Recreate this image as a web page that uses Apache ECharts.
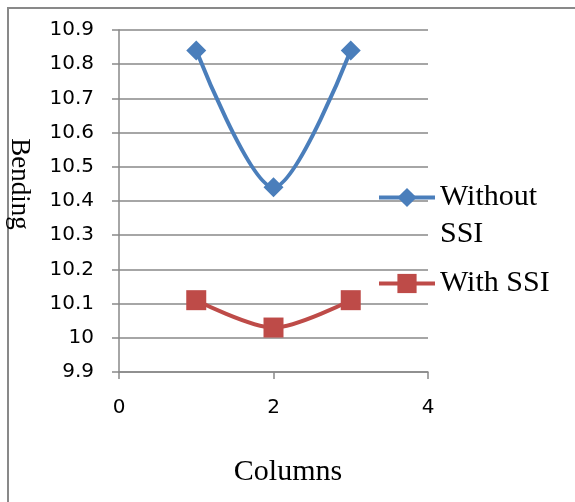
<!DOCTYPE html>
<html>
<head>
<meta charset="utf-8">
<script src="https://cdn.jsdelivr.net/npm/echarts@6/dist/echarts.min.js"></script>
<style>
  html, body { margin: 0; padding: 0; background: #fff; }
  #chart { width: 575px; height: 502px; }
</style>
</head>
<body>
<div id="chart"></div>
<script>
// Column positions and bending values for each case
const columns = [1, 2, 3];
const withoutSSI = [10.84, 10.44, 10.84];
const withSSI = [10.11, 10.03, 10.11];
const seriesNames = ['Without SSI', 'With SSI'];

const axisGray = '#898989';
const blue = '#4A7EBB';
const red = '#BE4B48';
const labelFont = 'DejaVu Sans';
const titleFont = 'Liberation Serif';

function pairs(xs, ys) {
  return xs.map((x, i) => [x, ys[i]]);
}

const chart = echarts.init(document.getElementById('chart'), null, { renderer: 'canvas' });

const legendCommon = {
  orient: 'vertical',
  left: 377,
  padding: 0,
  itemWidth: 56,
  itemHeight: 24,
  itemGap: 0,
  lineStyle: { width: 4 },
  textStyle: { fontFamily: titleFont, fontSize: 30, color: '#000', lineHeight: 37 }
};

chart.setOption({
  animation: false,
  backgroundColor: '#fff',
  grid: { left: 119, right: 147, top: 30, bottom: 130, containLabel: false },
  xAxis: {
    type: 'value',
    min: 0,
    max: 4,
    interval: 2,
    axisLine: { show: true, lineStyle: { color: axisGray, width: 1.5 } },
    axisTick: { show: true, length: 7, lineStyle: { color: axisGray, width: 1.5 } },
    splitLine: { show: false },
    axisLabel: { margin: 26, color: '#000', fontFamily: labelFont, fontSize: 20 }
  },
  yAxis: {
    type: 'value',
    min: 9.9,
    max: 10.9,
    interval: 0.1,
    axisLine: { show: true, lineStyle: { color: axisGray, width: 1.5 } },
    axisTick: { show: true, length: 7, lineStyle: { color: axisGray, width: 1.5 } },
    splitLine: { show: true, lineStyle: { color: axisGray, width: 1.5 } },
    axisLabel: {
      margin: 25,
      color: '#000',
      fontFamily: labelFont,
      fontSize: 20,
      formatter: v => String(+v.toFixed(1))
    }
  },
  legend: [
    Object.assign({}, legendCommon, {
      data: [seriesNames[0]],
      top: 142,
      // first line left blank so the marker sits beside "Without"
      formatter: () => ' \nWithout\nSSI'
    }),
    Object.assign({}, legendCommon, {
      data: [seriesNames[1]],
      top: 265
    })
  ],
  series: [
    {
      name: seriesNames[0],
      type: 'line',
      smooth: 0.3,
      data: pairs(columns, withoutSSI),
      symbol: 'diamond',
      symbolSize: 20,
      lineStyle: { color: blue, width: 4 },
      itemStyle: { color: blue }
    },
    {
      name: seriesNames[1],
      type: 'line',
      smooth: 0.3,
      data: pairs(columns, withSSI),
      symbol: 'rect',
      symbolSize: 20,
      lineStyle: { color: red, width: 4 },
      itemStyle: { color: red }
    }
  ],
  graphic: [
    {
      type: 'rect',
      shape: { x: 8, y: 8, width: 700, height: 700 },
      style: { fill: 'none', stroke: axisGray, lineWidth: 2 },
      silent: true
    },
    {
      type: 'text',
      x: 19,
      y: 184,
      rotation: -Math.PI / 2,
      style: {
        text: 'Bending',
        fontFamily: titleFont,
        fontSize: 27,
        fill: '#000',
        textAlign: 'center',
        textVerticalAlign: 'middle'
      }
    },
    {
      type: 'text',
      x: 288,
      y: 472,
      style: {
        text: 'Columns',
        fontFamily: titleFont,
        fontSize: 30,
        fill: '#000',
        textAlign: 'center',
        textVerticalAlign: 'middle'
      }
    }
  ]
});
</script>
</body>
</html>
